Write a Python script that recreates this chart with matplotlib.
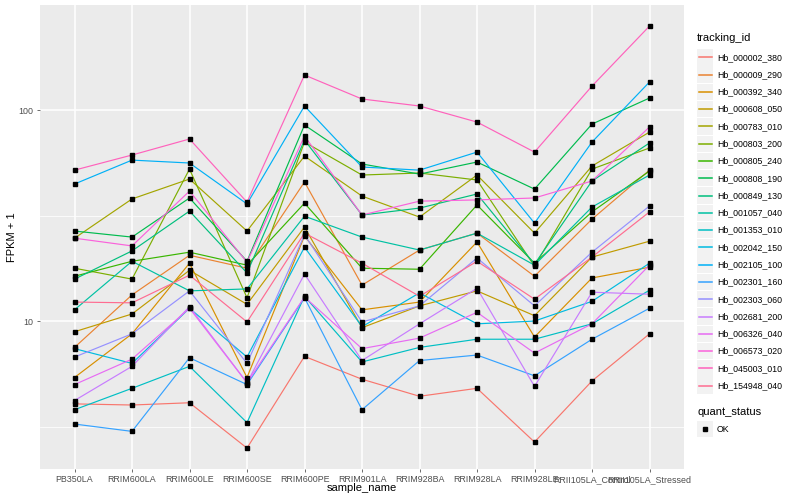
import matplotlib
matplotlib.use('Agg')
import matplotlib.pyplot as plt
from matplotlib.lines import Line2D
from matplotlib.patches import Rectangle
from matplotlib.ticker import FixedLocator, NullFormatter
from matplotlib.transforms import Affine2D

plt.rcParams['font.family'] = ['Liberation Sans', 'DejaVu Sans']

# samples along the x axis
samples = ['PB350LA', 'RRIM600LA', 'RRIM600LE', 'RRIM600SE', 'RRIM600PE',
           'RRIM901LA', 'RRIM928BA', 'RRIM928LA', 'RRIM928LE',
           'RRII105LA_Control', 'RRII105LA_Stressed']

tracking_ids = ['Hb_000002_380', 'Hb_000009_290', 'Hb_000392_340',
                'Hb_000608_050', 'Hb_000783_010', 'Hb_000803_200',
                'Hb_000805_240', 'Hb_000808_190', 'Hb_000849_130',
                'Hb_001057_040', 'Hb_001353_010', 'Hb_002042_150',
                'Hb_002105_100', 'Hb_002301_160', 'Hb_002303_060',
                'Hb_002681_200', 'Hb_006326_040', 'Hb_006573_020',
                'Hb_045003_010', 'Hb_154948_040']

# FPKM + 1 per gene, one value per sample
hb_000002_380 = [4.05, 4.0, 4.1, 2.5, 6.8, 5.3, 4.4, 4.8, 2.67, 5.2, 8.7]
hb_000009_290 = [7.5, 13.3, 20.5, 17.8, 45.6, 14.8, 21.7, 26.1, 16.3, 30.4, 51.9]
hb_000392_340 = [5.4, 8.7, 18.8, 5.4, 25.3, 11.3, 12.3, 23.7, 8.4, 16.0, 18.0]
hb_000608_050 = [8.9, 10.8, 17.4, 12.0, 27.9, 9.3, 11.8, 13.9, 10.6, 20.1, 23.9]
hb_000783_010 = [24.7, 37.9, 47.1, 26.7, 60.5, 39.1, 31.1, 49.2, 26.1, 54.3, 78.6]
hb_000803_200 = [17.8, 15.8, 52.5, 12.9, 70.5, 49.2, 50.3, 46.6, 18.2, 52.5, 66.1]
hb_000805_240 = [16.3, 19.2, 21.2, 18.4, 36.2, 17.8, 17.6, 35.5, 18.8, 32.9, 51.4]
hb_000808_190 = [26.7, 25.0, 38.3, 19.2, 84.9, 55.5, 49.7, 56.7, 42.2, 85.8, 114.0]
hb_000849_130 = [15.8, 21.5, 33.2, 16.9, 72.1, 31.8, 34.3, 40.0, 18.6, 46.1, 69.8]
hb_001057_040 = [11.3, 19.2, 13.9, 14.2, 31.4, 25.0, 21.7, 26.1, 18.4, 34.7, 49.2]
hb_001353_010 = [3.8, 4.8, 6.1, 3.3, 13.1, 6.4, 7.5, 8.2, 8.2, 9.7, 14.0]
hb_002042_150 = [7.4, 6.3, 11.5, 6.75, 22.4, 9.4, 13.6, 9.7, 10.0, 12.4, 18.8]
hb_002105_100 = [44.6, 57.9, 56.1, 35.9, 104.5, 53.7, 51.9, 63.2, 29.1, 70.5, 135.8]
hb_002301_160 = [3.25, 3.0, 6.7, 5.0, 12.9, 3.8, 6.5, 6.9, 5.5, 8.2, 11.5]
hb_002303_060 = [6.75, 8.7, 13.9, 6.3, 25.6, 9.9, 11.8, 19.9, 11.8, 21.2, 35.1]
hb_002681_200 = [4.2, 6.1, 11.7, 5.1, 16.7, 6.5, 9.7, 14.3, 4.9, 13.7, 13.4]
hb_006326_040 = [5.0, 6.6, 11.5, 5.1, 13.0, 7.4, 8.3, 11.0, 7.05, 9.7, 18.4]
hb_006573_020 = [24.7, 22.7, 41.3, 19.0, 75.3, 31.8, 37.0, 37.5, 38.3, 46.1, 83.1]
hb_045003_010 = [51.9, 61.2, 72.9, 36.6, 146.5, 112.8, 104.5, 87.7, 63.2, 129.9, 250.0]
hb_154948_040 = [12.3, 12.2, 16.5, 9.9, 26.1, 18.8, 13.1, 19.2, 12.7, 20.1, 32.9]

fpkm = [hb_000002_380, hb_000009_290, hb_000392_340, hb_000608_050,
        hb_000783_010, hb_000803_200, hb_000805_240, hb_000808_190,
        hb_000849_130, hb_001057_040, hb_001353_010, hb_002042_150,
        hb_002105_100, hb_002301_160, hb_002303_060, hb_002681_200,
        hb_006326_040, hb_006573_020, hb_045003_010, hb_154948_040]

quant_status = ['OK']

# ggplot default hue palette for 20 groups
colors = ['#F8766D', '#EA8331', '#D89000', '#C09B00', '#A3A500', '#7CAE00',
          '#39B600', '#00BB4E', '#00BF7D', '#00C1A3', '#00BFC4', '#00BAE0',
          '#00B0F6', '#35A2FF', '#9590FF', '#C77CFF', '#E76BF3', '#FA62DB',
          '#FF62BC', '#FF6C91']

W, H = 800, 500
fig = plt.figure(figsize=(W / 100, H / 100), dpi=100)
# pixel coordinates, origin top-left
pix = Affine2D().scale(1.0 / W, -1.0 / H).translate(0, 1) + fig.transFigure

ax = fig.add_axes([40 / W, 1 - 469 / H, 644 / W, 464 / H])
ax.set_facecolor('#EBEBEB')
for s in ax.spines.values():
   s.set_visible(False)

x = list(range(len(samples)))
for vals, col in zip(fpkm, colors):
   ax.plot(x, vals, color=col, linewidth=0.85, zorder=3)
for vals in fpkm:
   ax.plot(x, vals, linestyle='none', marker='s', markersize=2.8,
           color='black', zorder=4)

ax.set_yscale('log')
ax.set_ylim(1.99, 314.6)
ax.set_xlim(-0.6, len(samples) - 0.4)
ax.set_xticks(x)
ax.set_xticklabels(samples)
ax.yaxis.set_major_locator(FixedLocator([10, 100]))
ax.set_yticklabels(['10', '100'])
ax.yaxis.set_minor_locator(FixedLocator([10 ** 0.5, 10 ** 1.5, 10 ** 2.5]))
ax.yaxis.set_minor_formatter(NullFormatter())
ax.tick_params(which='minor', length=0)
ax.tick_params(which='major', length=2.5, width=0.5, color='#333333',
               labelsize=6.4, labelcolor='#4D4D4D', pad=2)
ax.set_axisbelow(True)
ax.grid(which='major', color='white', linewidth=1.1)
ax.grid(which='minor', axis='y', color='white', linewidth=0.55)

# axis titles
fig.text(362, 488, 'sample_name', transform=pix, ha='center', va='center',
         fontsize=8)
fig.text(12, 237, 'FPKM + 1', transform=pix, ha='center', va='center',
         rotation=90, fontsize=8)

# legend: tracking_id
fig.text(697, 38, 'tracking_id', transform=pix, ha='left', va='center',
         fontsize=8)
step = 17.28
for i, (tid, col) in enumerate(zip(tracking_ids, colors)):
   cy = 57.3 + i * step
   fig.add_artist(Rectangle((697, cy - 8.2), 16.4, 16.4, transform=pix,
                            facecolor='#F2F2F2', edgecolor='none', zorder=1))
   fig.add_artist(Line2D([698.5, 712], [cy, cy], transform=pix, color=col,
                         linewidth=1.1, zorder=2))
   fig.text(717, cy, tid, transform=pix, ha='left', va='center',
            fontsize=6.3)

# legend: quant_status
fig.text(697, 412, 'quant_status', transform=pix, ha='left', va='center',
         fontsize=8)
for i, st in enumerate(quant_status):
   cy = 429 + i * step
   fig.add_artist(Rectangle((697, cy - 8.2), 16.4, 16.4, transform=pix,
                            facecolor='#F2F2F2', edgecolor='none', zorder=1))
   fig.add_artist(Line2D([705.2], [cy], transform=pix, linestyle='none',
                         marker='s', markersize=2.8, color='black', zorder=2))
   fig.text(717, cy, st, transform=pix, ha='left', va='center', fontsize=6.3)

fig.savefig('out.png', dpi=100, facecolor='white')
